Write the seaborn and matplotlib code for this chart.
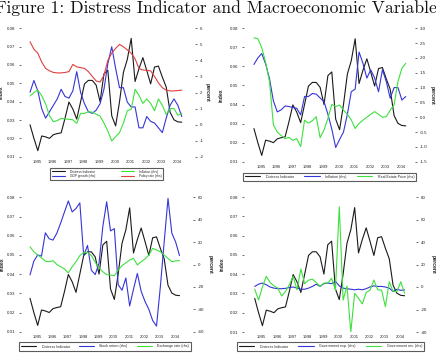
import numpy as np
import matplotlib
matplotlib.use("Agg")
import matplotlib.pyplot as plt
import seaborn as sns

# quarterly observations 1995Q1 - 2004Q4
years = list(range(1995, 2005))
quarters = [y + q / 4 for y in years for q in range(4)]

distress = [0.0274, 0.0200, 0.0133, 0.0213, 0.0208, 0.0200, 0.0220, 0.0226, 0.0230, 0.0310,
            0.0398, 0.0360, 0.0305, 0.0400, 0.0497, 0.0516, 0.0516, 0.0490, 0.0400, 0.0552,
            0.0571, 0.0323, 0.0268, 0.0400, 0.0560, 0.0630, 0.0745, 0.0510, 0.0580, 0.0640,
            0.0570, 0.0497, 0.0589, 0.0594, 0.0534, 0.0480, 0.0342, 0.0301, 0.0290, 0.0288]
gdp_growth = [2.02, 2.75, 2.1, 1.0, 0.4, 0.8, 1.2, 1.6, 2.2, 1.75,
              1.65, 2.1, 3.3, 2.0, 1.3, 0.8, 0.7, 0.9, 1.3, 2.2,
              3.8, 4.85, 3.5, 2.3, 2.3, 1.4, 1.1, 1.1, -0.2, -0.2,
              0.5, 0.2, 0.1, -0.2, -0.5, 0.4, 1.2, 1.6, 1.2, 0.5]
inflation = [1.78, 2.0, 2.15, 1.8, 1.3, 0.55, 0.18, 0.25, 0.38, 0.36,
             0.33, 0.3, 0.08, 0.7, 0.7, 0.8, 0.78, 0.65, 0.53, 0.1,
             -0.4, -1.02, -0.75, -0.5, 0.1, 0.86, 0.95, 2.2, 1.82, 1.32,
             1.6, 1.32, 0.86, 1.6, 1.2, 0.64, 1.0, 1.0, 0.58, 0.7]
policy_rate = [5.16, 4.7, 4.45, 3.9, 3.5, 3.35, 3.25, 3.22, 3.22, 3.25,
               3.3, 3.75, 3.6, 3.55, 3.5, 3.3, 3.0, 2.72, 2.65, 3.07,
               4.0, 4.45, 4.75, 5.0, 4.85, 4.65, 4.45, 4.1, 3.5, 3.4,
               3.38, 3.35, 3.0, 2.6, 2.3, 2.15, 2.1, 2.1, 2.12, 2.15]
real_estate = [2.68, 2.65, 2.35, 1.85, 1.2, -0.26, -0.5, -0.62, -0.72, -0.68,
               -0.78, -0.72, -0.99, -0.1, -0.2, -0.12, 0.02, -0.69, -0.43, -0.04,
               0.43, 0.36, 0.41, 0.24, 0.1, -0.09, -0.38, -0.21, -0.1, 0.0,
               0.1, 0.19, 0.1, 0.0, 0.02, 0.24, 0.42, 1.2, 1.65, 1.82]
stock_return = [-9.3, 3, 8.5, 7.5, 28.3, 23, 21.8, 28, 37, 47,
                56.7, 47, 50, 55, 8, 17, -5, -9, 1, 34,
                56, 30, 32, -18, -23, -12, -37, -22, -8, -24,
                -33, -40, -50, -55, -20, 20, 59, 28, 20, 8]
exchange_rate = [15.8, 11.4, 8.5, 6, 3, 2.5, 3.4, 0, -2, -4,
                 -7.5, -2, 2.5, 8, 10.5, 10.8, 8, 2, -3, -6.5,
                 -9, -9.5, -10, -5, -1, 1.5, 4, 5.5, -0.4, 2.5,
                 5, 8.4, 14.4, 13, 11.4, 8.4, 5.5, 2.5, 3.2, 3.5]
gov_exp = [0.5, 2.5, 3.5, 2, 0, -1, -1.5, -1.5, -1.2, -0.5,
           0, -1, -2, -2, -1, 0.5, 2.5, 0.5, 3, 3.5,
           3, 5, 1, -1, -1.5, -2, -2.5, -2, -2.5, -1.5,
           0, 1, 0.5, 0.5, 0, -1, -4, -2, -3, -2.5]
gov_rev = [-2, -11.6, 0, 9.5, 4, 1, -1, -8, -4, 2,
           9.5, -2.5, 16, 3, 6, 7, 4, 0.5, 3.5, 3.5,
           7.7, -2.7, 71.4, -11.6, 0.9, -40, -5.6, -10, -15, -5,
           -2.7, 6.2, -2.5, -2.7, -17.5, 4.7, -4, -4, 4.7, -5.6]

BLACK, BLUE, GREEN, RED = "#1a1a1a", "#3535d8", "#3ee03e", "#e04040"

panels = [
    dict(rhs=[(gdp_growth, "GDP growth (rhs)", BLUE), (inflation, "Inflation (rhs)", GREEN),
              (policy_rate, "Policy rate (rhs)", RED)],
         order=[0, 1, 2, 3], rticks=np.arange(-2, 7, 1), rfmt="{:.0f}",
         box=(21, 195, 28.3, 156.7), xlim=(1994.42, 2005.6),
         leg=(48, 165, 167, 181), ncol=2, lfs=2.3, idx=3.5, pct=207.5),
    dict(rhs=[(inflation, "Inflation (rhs)", BLUE), (real_estate, "Real Estate Price (rhs)", GREEN)],
         order=[0, 1, 2], rticks=np.arange(-1.5, 3.01, 0.5), rfmt="{:.1f}",
         box=(243.5, 414.5, 28.3, 161.7), xlim=(1994.33, 2005.31),
         leg=(241, 418, 172.5, 181), ncol=3, lfs=2.6, idx=224, pct=432),
    dict(rhs=[(stock_return, "Stock return (rhs)", BLUE), (exchange_rate, "Exchange rate (rhs)", GREEN)],
         order=[0, 1, 2], rticks=np.arange(-60, 61, 20), rfmt="{:.0f}",
         box=(20.5, 193, 197.3, 331.7), xlim=(1994.38, 2005.63),
         leg=(17, 193, 342, 351), ncol=3, lfs=2.6, idx=5, pct=210),
    dict(rhs=[(gov_exp, "Government exp. (rhs)", BLUE), (gov_rev, "Government rev. (rhs)", GREEN)],
         order=[0, 1, 2], rticks=np.arange(-40, 81, 20), rfmt="{:.0f}",
         box=(243.5, 416, 197, 332), xlim=(1994.27, 2005.49),
         leg=(235, 426, 342, 351), ncol=3, lfs=2.6, idx=224.7, pct=433),
]

sns.set_style("white")
plt.rcParams["font.family"] = ["Liberation Sans", "DejaVu Sans"]
plt.rcParams["axes.unicode_minus"] = False

W, H = 436, 359
fig = plt.figure(figsize=(W / 100, H / 100), dpi=100)
fig.patch.set_facecolor("white")

fig.text(219 / W, 1 - 13 / H, "Figure 1: Distress Indicator and Macroeconomic Variables",
         ha="center", va="baseline", fontfamily="cmr10", fontsize=12.7, color="#111111")

for p in panels:
    l, r, t, b = p["box"]
    ax = fig.add_axes([l / W, 1 - b / H, (r - l) / W, (b - t) / H])
    ax2 = ax.twinx()
    for a in (ax, ax2):
        a.patch.set_visible(False)
        for s in a.spines.values():
            s.set_visible(False)

    sns.lineplot(x=quarters, y=distress, ax=ax, color=BLACK, linewidth=0.8, legend=False)
    handles = [ax.lines[-1]]
    labels = ["Distress Indicator"]
    for vals, lab, col in p["rhs"]:
        sns.lineplot(x=quarters, y=vals, ax=ax2, color=col, linewidth=0.8, legend=False)
        handles.append(ax2.lines[-1])
        labels.append(lab)

    ax.set_xlim(*p["xlim"])
    ax.set_ylim(0.01, 0.08)
    ax.set_yticks(np.arange(0.01, 0.081, 0.01))
    ax.set_yticklabels([f"{v:.2f}" for v in np.arange(0.01, 0.081, 0.01)])
    ax2.set_ylim(p["rticks"][0], p["rticks"][-1])
    ax2.set_yticks(p["rticks"])
    ax2.set_yticklabels([p["rfmt"].format(v) for v in p["rticks"]])

    ax.set_xticks([y + 0.45 for y in years])
    ax.set_xticklabels([str(y) for y in years])
    ax.set_xticks(quarters, minor=True)
    ax.tick_params(axis="x", which="major", length=0, pad=2.4, labelsize=3.0, labelcolor="#222222")
    ax.tick_params(axis="x", which="minor", direction="out", length=1.4, width=0.5, color="#333333")
    ax.tick_params(axis="y", direction="out", length=1.7, width=0.5, pad=2.2,
                   labelsize=3.2, color="#333333", labelcolor="#222222")
    ax2.tick_params(axis="y", direction="out", length=1.7, width=0.5, pad=2.0,
                    labelsize=3.2, color="#333333", labelcolor="#222222")

    ax.set_xlabel("")
    ax.set_ylabel("index", fontsize=3.7, fontweight="bold", color="#222222")
    ax.yaxis.set_label_coords((p["idx"] - l) / (r - l), 0.5)
    ax2.set_ylabel("percent", fontsize=3.7, fontweight="bold", rotation=270, va="center", color="#222222")
    ax2.yaxis.set_label_coords((p["pct"] - l) / (r - l), 0.5)

    ll, lr, lt, lb = p["leg"]
    leg = fig.legend([handles[i] for i in p["order"]], [labels[i] for i in p["order"]],
                     loc="center", bbox_to_anchor=(ll / W, 1 - lb / H, (lr - ll) / W, (lb - lt) / H),
                     bbox_transform=fig.transFigure, mode="expand", ncol=p["ncol"],
                     fontsize=p["lfs"], frameon=True, fancybox=False, handlelength=4.2,
                     handletextpad=1.5, borderpad=0.6, labelspacing=0.3, columnspacing=1.0)
    leg.get_frame().set_edgecolor("#333333")
    leg.get_frame().set_linewidth(0.8)

fig.savefig("out.png", dpi=100, facecolor="white")
